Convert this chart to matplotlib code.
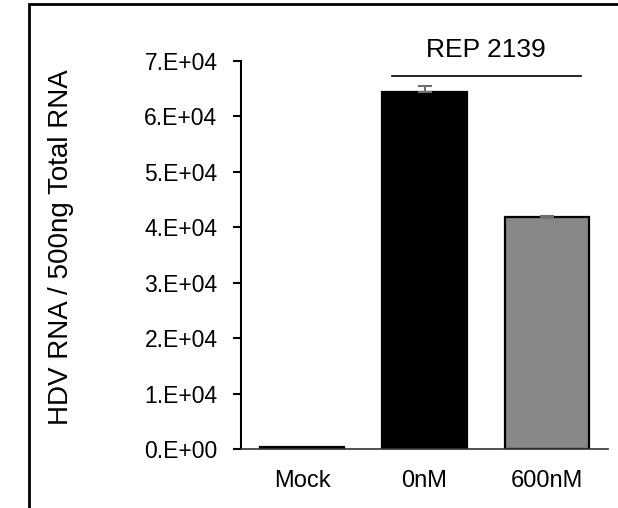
import numpy as np
import matplotlib.pyplot as plt
from matplotlib.patches import Rectangle

plt.rcParams['font.family'] = ['Liberation Sans', 'DejaVu Sans']

groups = ['Mock', '0nM', '600nM']
hdv_rna = [300, 64400, 41750]
hdv_err = [0, 1050, 250]
bar_colors = ['black', 'black', '#878787']

fig = plt.figure(figsize=(6.18, 5.08), dpi=100)
ax = fig.add_axes([0.390, 0.1161, 0.594, 0.7644])

x = np.arange(len(groups))
ax.bar(x, hdv_rna, width=0.69, color=bar_colors, edgecolor='black', linewidth=1.6, zorder=2)
# error bars only upward
ax.errorbar(x[1:], hdv_rna[1:], yerr=[np.zeros(2), hdv_err[1:]], fmt='none',
            ecolor='#6e6e6e', elinewidth=1.5, capsize=5, capthick=1.5, zorder=3)

ax.set_xlim(-0.5, 2.5)
ax.set_ylim(0, 70000)
ax.set_yticks(np.arange(0, 70001, 10000))
ax.set_yticklabels([f'{int(v / 10000)}.E+{4 if v else 0:02d}' for v in np.arange(0, 70001, 10000)])
ax.set_xticks(x)
ax.set_xticklabels(groups, fontsize=17)
ax.tick_params(axis='x', length=0, pad=15)
ax.tick_params(axis='y', length=6, width=1.5, direction='out', pad=11, labelsize=16.5)

for s in ['top', 'right']:
    ax.spines[s].set_visible(False)
ax.spines['left'].set_linewidth(1.5)
ax.spines['bottom'].set_linewidth(1.2)
ax.spines['bottom'].set_color('#333333')

ax.set_ylabel('HDV RNA / 500ng Total RNA', fontsize=20)
ax.yaxis.set_label_coords(-0.455, 0.52)

# treatment bracket over the REP 2139 groups
ax.plot([0.732, 2.277], [67200, 67200], color='black', linewidth=1.2, clip_on=False)
ax.text(1.5, 69700, 'REP 2139', ha='center', va='bottom', fontsize=19)

# outer frame
fig.patches.append(Rectangle((28.5 / 618, -0.1), 1.2, 1 - 4.5 / 508 + 0.1,
                             transform=fig.transFigure, fill=False,
                             edgecolor='black', linewidth=2))

fig.savefig('out.png', dpi=100)
